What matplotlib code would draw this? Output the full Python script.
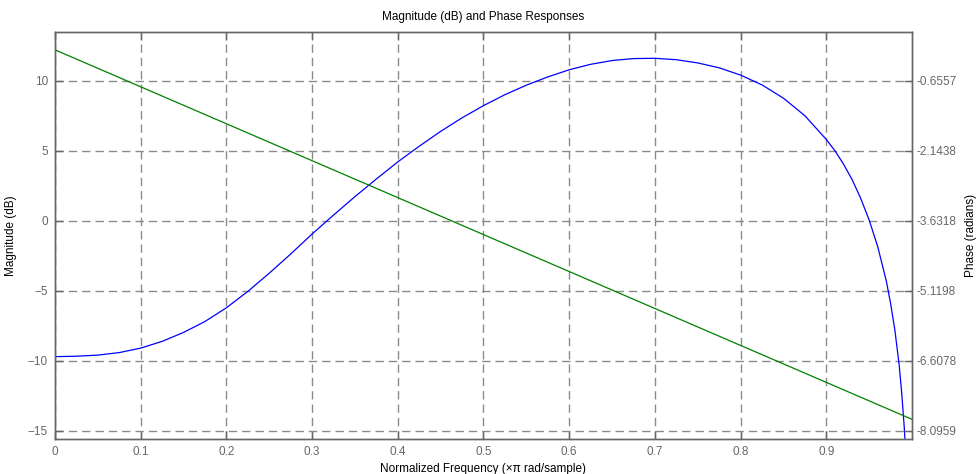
import numpy as np
import matplotlib.pyplot as plt

plt.rcParams['font.family'] = ['Liberation Sans', 'DejaVu Sans']

# magnitude response (normalized freq, dB)
freq = [0.000, 0.025, 0.050, 0.075, 0.100, 0.125, 0.150, 0.175, 0.200, 0.225,
        0.250, 0.275, 0.300, 0.325, 0.350, 0.375, 0.400, 0.425, 0.450, 0.475,
        0.500, 0.525, 0.550, 0.575, 0.600, 0.625, 0.650, 0.675, 0.700, 0.725,
        0.750, 0.775, 0.800, 0.825, 0.850, 0.875, 0.900, 0.910, 0.920, 0.930,
        0.940, 0.950, 0.960, 0.970, 0.975, 0.980, 0.985, 0.988, 0.991, 0.993,
        0.995]
mag_db = [-9.71, -9.68, -9.60, -9.42, -9.10, -8.62, -7.98, -7.20, -6.22, -5.05,
          -3.75, -2.38, -0.95, 0.40, 1.72, 2.98, 4.20, 5.32, 6.38, 7.35,
          8.22, 9.00, 9.68, 10.27, 10.78, 11.17, 11.44, 11.58, 11.60, 11.50,
          11.27, 10.92, 10.40, 9.70, 8.75, 7.50, 5.80, 5.00, 4.05, 2.95,
          1.62, 0.05, -1.85, -4.30, -5.90, -7.80, -10.30, -12.30, -14.80, -17.0,
          -20.0]

# phase response (linear)
phase_freq = [0.0, 1.0]
phase_rad = [0.0, -7.854]

mag_ticks = [-15, -10, -5, 0, 5, 10]
phase_ticks = [-8.0959, -6.6078, -5.1198, -3.6318, -2.1438, -0.6557]
x_ticks = [0, 0.1, 0.2, 0.3, 0.4, 0.5, 0.6, 0.7, 0.8, 0.9]

mag_lim = (-15.571, 13.457)


def db_to_rad(v):
    # right axis lines up with the left one
    return -0.6557 + (v - 10) * (-0.6557 + 8.0959) / 25.0


fig = plt.figure(figsize=(9.76, 4.74), dpi=100)
ax = fig.add_axes([55 / 976, 1 - 438.7 / 474, (912 - 55) / 976, (438.7 - 32.3) / 474])
ax2 = ax.twinx()

gray = '#666666'
grid_style = dict(color='#8a8a8a', linewidth=1.0, dashes=(6, 3.6))

ax.plot(freq, mag_db, color='#0000ff', linewidth=0.9)
ax2.plot(phase_freq, phase_rad, color='#008000', linewidth=0.9)

ax.set_xlim(0, 1)
ax.set_ylim(*mag_lim)
ax2.set_ylim(db_to_rad(mag_lim[0]), db_to_rad(mag_lim[1]))

ax.set_xticks(x_ticks)
ax.set_xticklabels(['0', '0.1', '0.2', '0.3', '0.4', '0.5', '0.6', '0.7', '0.8', '0.9'])
ax.set_yticks(mag_ticks)
ax2.set_yticks(phase_ticks)
ax2.set_yticklabels(['%.4f' % t for t in phase_ticks])

ax.grid(True, **grid_style)

ax.tick_params(axis='both', direction='in', length=6, width=1, color=gray,
               labelcolor=gray, labelsize=8.5, top=True, pad=5)
ax2.tick_params(axis='y', direction='in', length=6, width=1, color=gray,
                labelcolor=gray, labelsize=8.5, pad=3)

for a in (ax, ax2):
    for s in a.spines.values():
        s.set_color(gray)
        s.set_linewidth(1.0)

ax.set_title('Magnitude (dB) and Phase Responses', fontsize=8.5, pad=9)
ax.set_xlabel('Normalized Frequency (\u00d7\u03c0 rad/sample)', fontsize=8.5, labelpad=4)
ax.set_ylabel('Magnitude (dB)', fontsize=8.5, labelpad=8)
ax2.set_ylabel('Phase (radians)', fontsize=8.5, labelpad=6)

plt.savefig('out.png', dpi=100)
